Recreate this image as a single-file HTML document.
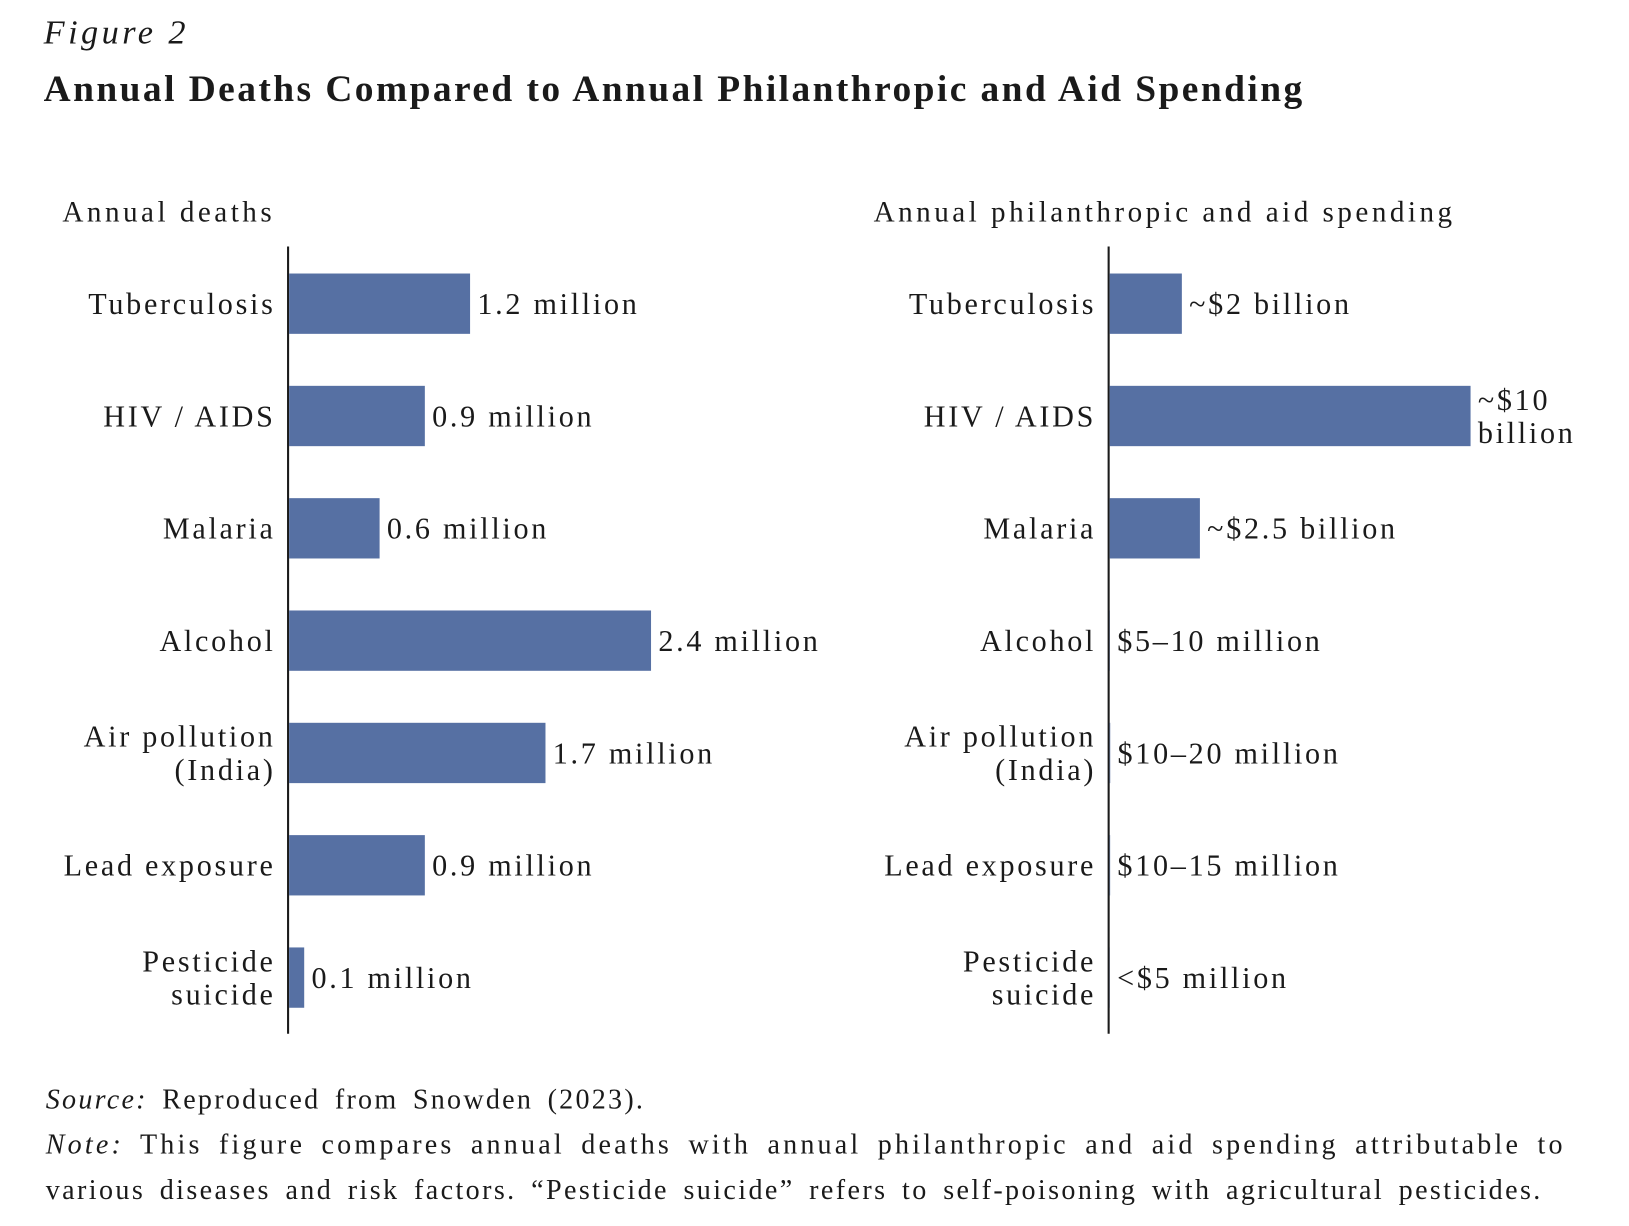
<!DOCTYPE html>
<html><head><meta charset="utf-8"><style>
html,body{margin:0;padding:0;background:#fff;width:1629px;height:1226px;overflow:hidden}
#wrap{position:absolute;left:0;top:0;width:1566px;height:1179px;transform:scale(1.040);transform-origin:0 0;font-family:"Liberation Serif",serif;color:#1a1a1a}
.t{position:absolute;white-space:nowrap}
</style></head><body>
<div id="wrap">
<div class="t" style="left:42px;top:14px;font-size:33px;font-style:italic;letter-spacing:0.1em">Figure 2</div>
<div class="t" style="left:42px;top:64px;font-size:36px;font-weight:bold;letter-spacing:0.065em">Annual Deaths Compared to Annual Philanthropic and Aid Spending</div>
<svg id="chart" width="1566" height="1020" style="position:absolute;left:0;top:0"></svg>
<div class="t" style="left:44px;top:1042px;font-size:27px;letter-spacing:0.08em;word-spacing:5px"><i>Source:</i> Reproduced from Snowden (2023).</div>
<div class="t" style="left:44px;top:1078px;font-size:27px;line-height:44px;letter-spacing:0.113em;word-spacing:6px"><i>Note:</i> This figure compares annual deaths with annual philanthropic and aid spending attributable to</div>
<div class="t" style="left:44px;top:1122px;font-size:27px;line-height:44px;letter-spacing:0.085em;word-spacing:5px">various diseases and risk factors. “Pesticide suicide” refers to self-poisoning with agricultural pesticides.</div>
</div>
<script>
const categories=[["Tuberculosis"],["HIV / AIDS"],["Malaria"],["Alcohol"],["Air pollution","(India)"],["Lead exposure"],["Pesticide","suicide"]];
const deaths=[1.2,0.9,0.6,2.4,1.7,0.9,0.1];
const deathLabels=[["1.2 million"],["0.9 million"],["0.6 million"],["2.4 million"],["1.7 million"],["0.9 million"],["0.1 million"]];
const spending=[2,10,2.5,0.0075,0.015,0.0125,0.005];
const spendLabels=[["~$2 billion"],["~$10","billion"],["~$2.5 billion"],["$5–10 million"],["$10–20 million"],["$10–15 million"],["<$5 million"]];

const svg=document.getElementById('chart');
const NS='http://www.w3.org/2000/svg';
function el(tag,attrs){const e=document.createElementNS(NS,tag);for(const k in attrs)e.setAttribute(k,attrs[k]);svg.appendChild(e);return e;}
const yCenter=i=>292+i*108;
const barH=58;
function panel(x0,scale,values,labels,title,titleX,pname){
  const tt=el('text',{x:titleX,y:213,'font-size':28,fill:'#1a1a1a','letter-spacing':'0.12em'});tt.textContent=title;
  
  
  const ax=el('line',{x1:x0,x2:x0,y1:237,y2:994,stroke:'#1a1a1a','stroke-width':2});
  
  
  categories.forEach((c,i)=>{
    const yc=yCenter(i);
    const w=values[i]*scale;
    const r=el('rect',{x:x0+1,y:yc-barH/2,width:w,height:barH,fill:'#5670a3'});
    
    
    const cl=el('text',{x:x0-12,y:yc+10-(c.length-1)*16,'font-size':29,'text-anchor':'end',fill:'#1a1a1a','letter-spacing':'0.09em'});
    
    
    c.forEach((s,j)=>{const ts=document.createElementNS(NS,'tspan');ts.setAttribute('x',x0-12);ts.setAttribute('dy',j?32:0);ts.textContent=s;cl.appendChild(ts);});
    const lb=labels[i];
    const vl=el('text',{x:x0+w+8,y:yc+10-(lb.length-1)*16,'font-size':29,fill:'#1a1a1a','letter-spacing':'0.09em'});
    
    
    lb.forEach((s,j)=>{const ts=document.createElementNS(NS,'tspan');ts.setAttribute('x',x0+w+8);ts.setAttribute('dy',j?32:0);ts.textContent=s;vl.appendChild(ts);});
  });
}
panel(277,145,deaths,deathLabels,'Annual deaths',60,'deaths');
panel(1066,34.7,spending,spendLabels,'Annual philanthropic and aid spending',840,'spending');
</script>
</body></html>
